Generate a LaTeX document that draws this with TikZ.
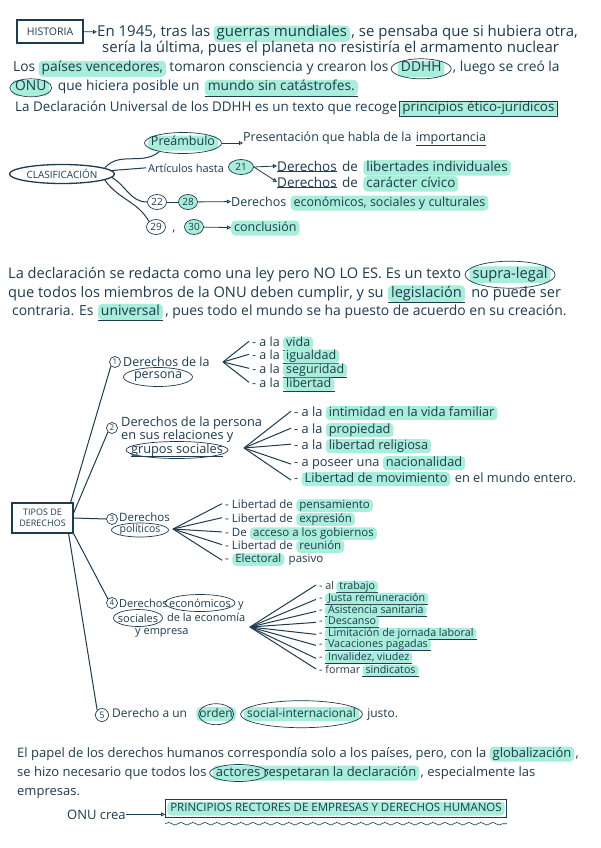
\documentclass[tikz,border=0pt]{standalone}
\usepackage{fontspec}
\setmainfont{Open Sans}
\usetikzlibrary{arrows.meta,positioning,fit,shapes.geometric,decorations.pathmorphing}
\definecolor{inkc}{HTML}{1F3B4D}
\definecolor{mint}{HTML}{A8EEDB}

\begin{document}
\begin{tikzpicture}[x=1pt,y=-1pt,
  fs/.style 2 args={font=\fontsize{#1}{#2}\selectfont},
  txt/.style={inner sep=0pt,text=inkc},
  hl/.style={txt,fill=mint,rounded corners=4pt,inner xsep=3pt,inner ysep=0pt,execute at begin node=\strut},
  ul/.style={append after command={(\tikzlastnode.south west) edge[draw=inkc,line width=.6pt] (\tikzlastnode.south east)}},
  ring/.style={draw=inkc,line width=.7pt,ellipse,inner sep=0pt},
  num/.style={txt,draw=inkc,ellipse,line width=.7pt,inner sep=0pt,minimum width=19pt,minimum height=15pt,fs={10}{12}},
  dot/.style={txt,draw=inkc,circle,line width=.7pt,inner sep=0pt,minimum size=11pt,fs={8}{9}},
  box/.style={draw=inkc,line width=1.2pt,text=inkc},
  branch/.style={draw=inkc,line width=1pt},
  tip/.style={draw=inkc,line width=.8pt,-{Triangle[open,length=4pt,width=4pt]}}]
\fill[white] (0,0) rectangle (600,848);

% historia
\node[box,minimum width=66pt,minimum height=23pt,fs={10.5}{12}] (hist) at (50,31.5) {HISTORIA};
\begin{scope}[fs={15}{16}]
\node[txt,anchor=base west] (h1) at (97,37) {En 1945, tras las};
\node[hl,base right=3pt of h1] (h1b) {guerras mundiales};
\node[txt,base right=1pt of h1b] (h1c) {, se pensaba que si hubiera otra,};
\node[txt,anchor=base west] (h2) at (102,53) {sería la última, pues el planeta no resistiría el armamento nuclear};
\end{scope}
\begin{scope}[fs={13.8}{16}]
\node[txt,anchor=base west] (h3) at (13,72) {Los};
\node[hl,base right=3pt of h3] (h3b) {países vencedores,};
\node[txt,base right=3pt of h3b] (h3c) {tomaron consciencia y crearon los};
\node[hl,base right=9pt of h3c] (ddhh) {DDHH};
\node[ring,minimum width=60pt,minimum height=20pt] (ddhhR) at (ddhh) {};
\node[txt,base right=8pt of ddhh] (h3d) {, luego se creó la};
\node[hl,anchor=base west] (onu) at (12,91) {ONU};
\node[ring,minimum width=42pt,minimum height=18pt] (onuR) at (onu) {};
\node[txt,base right=8pt of onu] (h4) {que hiciera posible un};
\node[hl,ul,base right=5pt of h4] (h4b) {mundo sin catástrofes.};
\end{scope}
\begin{scope}[fs={13.4}{15}]
\node[txt,anchor=base west] (h5) at (15,112) {La Declaración Universal de los DDHH es un texto que recoge};
\node[hl,base right=2pt of h5] (pej) {principios ético-jurídicos};
\node[draw=inkc,line width=.8pt,inner sep=0pt,fit=(pej)] (pejB) {};
\end{scope}
\draw[tip] (hist) -- (h1);

% clasificacion
\node[ring,line width=1.3pt,minimum width=105pt,minimum height=19pt,text=inkc,fs={10}{11}] (clas) at (62,174) {CLASIFICACIÓN};
\begin{scope}[fs={12.5}{15}]
\node[hl] (pre) at (183,143) {Preámbulo};
\node[ring,minimum width=77pt,minimum height=21pt] (preR) at (pre) {};
\node[txt,anchor=base west] (pre2) at (243,142) {Presentación que habla de la};
\node[txt,ul,base right=4pt of pre2] (pre3) {importancia};
\node[txt,anchor=base west,fs={11}{13}] (art) at (148,172) {Artículos hasta};
\node[num,fill=mint,minimum width=25pt] (n21) at (241,167) {21};
\node[num] (n22) at (157,202) {22};
\node[num,fill=mint] (n28) at (188,202) {28};
\node[txt,anchor=base west] (d3) at (231,206) {Derechos};
\node[hl,base right=4pt of d3] (d3b) {económicos, sociales y culturales};
\node[num] (n29) at (156,227) {29};
\node[txt] (cm) at (174,232) {,};
\node[num,fill=mint] (n30) at (194,227) {30};
\node[hl,anchor=base west] (d4) at (231,231) {conclusión};
\end{scope}
\begin{scope}[fs={13.5}{15.5}]
\node[txt,ul,anchor=base west] (d1) at (277,171) {Derechos};
\node[txt,base right=5pt of d1] (d1b) {de};
\node[hl,base right=5pt of d1b] (d1c) {libertades individuales};
\node[txt,ul,anchor=base west] (d2) at (277,187) {Derechos};
\node[txt,base right=5pt of d2] (d2b) {de};
\node[hl,base right=5pt of d2b] (d2c) {carácter cívico};
\end{scope}
\draw[branch] (clas.8) to[out=50,in=220] (preR.200);
\draw[branch] (clas.4) -- ([xshift=-2pt]art.west);
\draw[branch] (clas.-4) to[out=-30,in=180] (n22.west);
\draw[branch] (clas.-8) to[out=-55,in=120] (n29.north west);
\draw[tip] (preR.east) -- (preR.east -| pre2.west);
\draw[tip] (n21.east) -- (d1.west);
\draw[tip] (n21.east) -- (d2.west);
\draw[inkc,line width=.8pt] (n22) -- (n28);
\draw[tip] (n28) -- (d3);
\draw[tip] (n30) -- (d4);

% la declaracion
\begin{scope}[fs={14.6}{16.5}]
\node[txt,anchor=base west] (p1) at (8,278) {La declaración se redacta como una ley pero NO LO ES. Es un texto};
\node[hl,base right=8pt of p1] (supra) {supra-legal};
\node[ring,minimum width=90pt,minimum height=27pt] (supraR) at (supra) {};
\node[txt,anchor=base west] (p2) at (8,297) {que todos los miembros de la ONU deben cumplir, y su};
\node[hl,ul,base right=4pt of p2] (leg) {legislación};
\node[txt,base right=6pt of leg] (p2b) {no puede ser};
\end{scope}
\begin{scope}[fs={13.9}{16}]
\node[txt,anchor=base west] (p3) at (12,315) {contraria. Es};
\node[hl,ul,base right=4pt of p3] (univ) {universal};
\node[txt,base right=2pt of univ] (p3b) {, pues todo el mundo se ha puesto de acuerdo en su creación.};
\end{scope}

% tipos de derechos
\node[box,minimum width=61pt,minimum height=30pt,align=center,fs={9}{11}] (tipos) at (42.5,518) {TIPOS DE\\DERECHOS};

\begin{scope}[fs={12.5}{13.5}]
\node[dot] (c1) at (115,362) {1};
\node[txt,anchor=base west] (b1) at (123,366) {Derechos de la};
\node[txt] (b1b) at (158,377) {persona};
\node[ring,minimum width=69pt,minimum height=19pt] (b1R) at (b1b) {};
\coordinate (f1) at (223,362);
\foreach \n/\y/\w in {1/346/vida,2/359/igualdad,3/373/seguridad,4/387/libertad}{
  \node[txt,anchor=base west] (pa\n) at (252,\y) {- a la};
  \node[hl,ul,base right=3pt of pa\n] (pah\n) {\w};
  \draw[branch] (f1) -- ([xshift=-3pt]pa\n.west);}
\end{scope}

\begin{scope}[fs={12.8}{14}]
\node[dot] (c2) at (112,428) {2};
\node[txt,anchor=base west] (b2) at (121,426) {Derechos de la persona};
\node[txt,anchor=base west] (b2b) at (121,439) {en sus relaciones y};
\node[txt,ul] (b2c) at (177,450) {grupos sociales};
\node[ring,minimum width=102pt,minimum height=17pt] (b2R) at (b2c) {};
\coordinate (f2) at (244,448);
\foreach \n/\y/\a/\w/\c in {1/416/{- a la}/{intimidad en la vida familiar}/{},
    2/433/{- a la}/{propiedad}/{},3/449/{- a la}/{libertad religiosa}/{},
    4/466/{- a poseer una}/{nacionalidad}/{},
    5/482/{-}/{Libertad de movimiento}/{en el mundo entero.}}{
  \node[txt,anchor=base west] (pb\n) at (294,\y) {\a};
  \node[hl,base right=3pt of pb\n] (pbh\n) {\w};
  \node[txt,base right=4pt of pbh\n] (pbt\n) {\c};
  \draw[branch] (f2) -- ([xshift=-3pt]pb\n.west);}
\end{scope}

\begin{scope}[fs={11.5}{12.5}]
\node[dot] (c3) at (112,519) {3};
\node[txt,anchor=base west] (b3) at (119,521) {Derechos};
\node[txt,fs={10.5}{12}] (b3b) at (140,530) {políticos};
\node[ring,minimum width=57pt,minimum height=14pt] (b3R) at (b3b) {};
\coordinate (f3) at (173,529);
\foreach \n/\y/\a/\w/\c in {1/508/{- Libertad de}/{pensamiento}/{},
    2/522/{- Libertad de}/{expresión}/{},3/536/{- De}/{acceso a los gobiernos}/{},
    4/549/{- Libertad de}/{reunión}/{},5/562/{-}/{Electoral}/{pasivo}}{
  \node[txt,anchor=base west] (pc\n) at (225,\y) {\a};
  \node[hl,base right=3pt of pc\n] (pch\n) {\w};
  \node[txt,base right=4pt of pch\n] (pct\n) {\c};
  \draw[branch] (f3) -- ([xshift=-3pt]pc\n.west);}
\end{scope}

\begin{scope}[fs={11}{12}]
\node[dot] (c4) at (112,603) {4};
\node[txt,anchor=base west] (b4) at (119,607) {Derechos};
\node[txt] (b4b) at (200,603) {económicos};
\node[ring,minimum width=70pt,minimum height=17pt] (b4R) at (b4b) {};
\node[txt,anchor=base west] (b4c) at (238,607) {y};
\node[txt] (b4d) at (138,618) {sociales};
\node[ring,minimum width=49pt,minimum height=17pt] (b4S) at (b4d) {};
\node[txt,anchor=base west] (b4e) at (167,621) {de la economía};
\node[txt,anchor=base west] (b4f) at (135,634) {y empresa};
\coordinate (f4) at (250,627);
\end{scope}
\begin{scope}[fs={10.7}{11.5}]
\foreach \n/\y/\a/\w in {1/589/{- al}/{trabajo},2/601/{-}/{Justa remuneración},
    3/613/{-}/{Asistencia sanitaria},4/624/{-}/{Descanso},
    5/636/{-}/{Limitación de jornada laboral},6/647/{-}/{Vacaciones pagadas},
    7/660/{-}/{Invalidez, viudez},8/673/{- formar}/{sindicatos}}{
  \node[txt,anchor=base west] (pd\n) at (319,\y) {\a};
  \node[hl,ul,base right=2pt of pd\n] (pdh\n) {\w};
  \draw[branch] (f4) -- ([xshift=-3pt]pd\n.west);}
\end{scope}

\begin{scope}[fs={12}{14}]
\node[dot,minimum size=13pt,fs={9}{10}] (c5) at (102,715) {5};
\node[txt,anchor=base west] (b5) at (112,717) {Derecho a un};
\node[hl,base right=9pt of b5] (ord) {orden};
\node[ring,minimum width=35pt,minimum height=21pt] (ordR) at (ord) {};
\node[hl,base right=8pt of ord] (soc) {social-internacional};
\node[ring,minimum width=122pt,minimum height=27pt] (socR) at (soc) {};
\node[txt,base right=8pt of soc] (b5b) {justo.};
\end{scope}

\draw[branch] ([xshift=-3pt]tipos.north east) -- (c1.south west);
\draw[branch] ([yshift=5pt]tipos.east) -- (c2.south west);
\draw[branch] (tipos.east) -- (c3.west);
\draw[branch] (tipos.south east) -- (c4.north west);
\draw[branch] ([xshift=-5pt]tipos.south east) -- (c5.north west);

% final
\begin{scope}[fs={13}{15}]
\node[txt,anchor=base west] (e1) at (17,757) {El papel de los derechos humanos correspondía solo a los países, pero, con la};
\node[hl,base right=3pt of e1] (glob) {globalización};
\node[txt,base right=1pt of glob] (e1b) {,};
\node[txt,anchor=base west] (e2) at (17,776) {se hizo necesario que todos los};
\node[hl,base right=6pt of e2] (act) {actores respetaran la declaración};
\node[ring,minimum width=58pt,minimum height=17pt] (actR) at ([xshift=26pt]act.west) {};
\node[txt,base right=1pt of act] (e2b) {, especialmente las};
\node[txt,anchor=base west] (e3) at (17,795) {empresas.};
\node[txt,anchor=base west,fs={13}{15}] (onu2) at (67,819) {ONU crea};
\end{scope}
\node[hl,fs={11.5}{14},minimum width=328pt] (prin) at (336,808.5) {PRINCIPIOS RECTORES DE EMPRESAS Y DERECHOS HUMANOS};
\node[draw=inkc,line width=1pt,inner sep=1.5pt,fit=(prin)] (prinB) {};
\draw[tip] (onu2.east) -- (onu2.east -| prinB.west);
\draw[inkc,line width=.6pt,decorate,decoration={snake,amplitude=1.3pt,segment length=12pt}]
  ([yshift=-6pt]prinB.south west) -- ([yshift=-6pt]prinB.south east);
\end{tikzpicture}
\end{document}
